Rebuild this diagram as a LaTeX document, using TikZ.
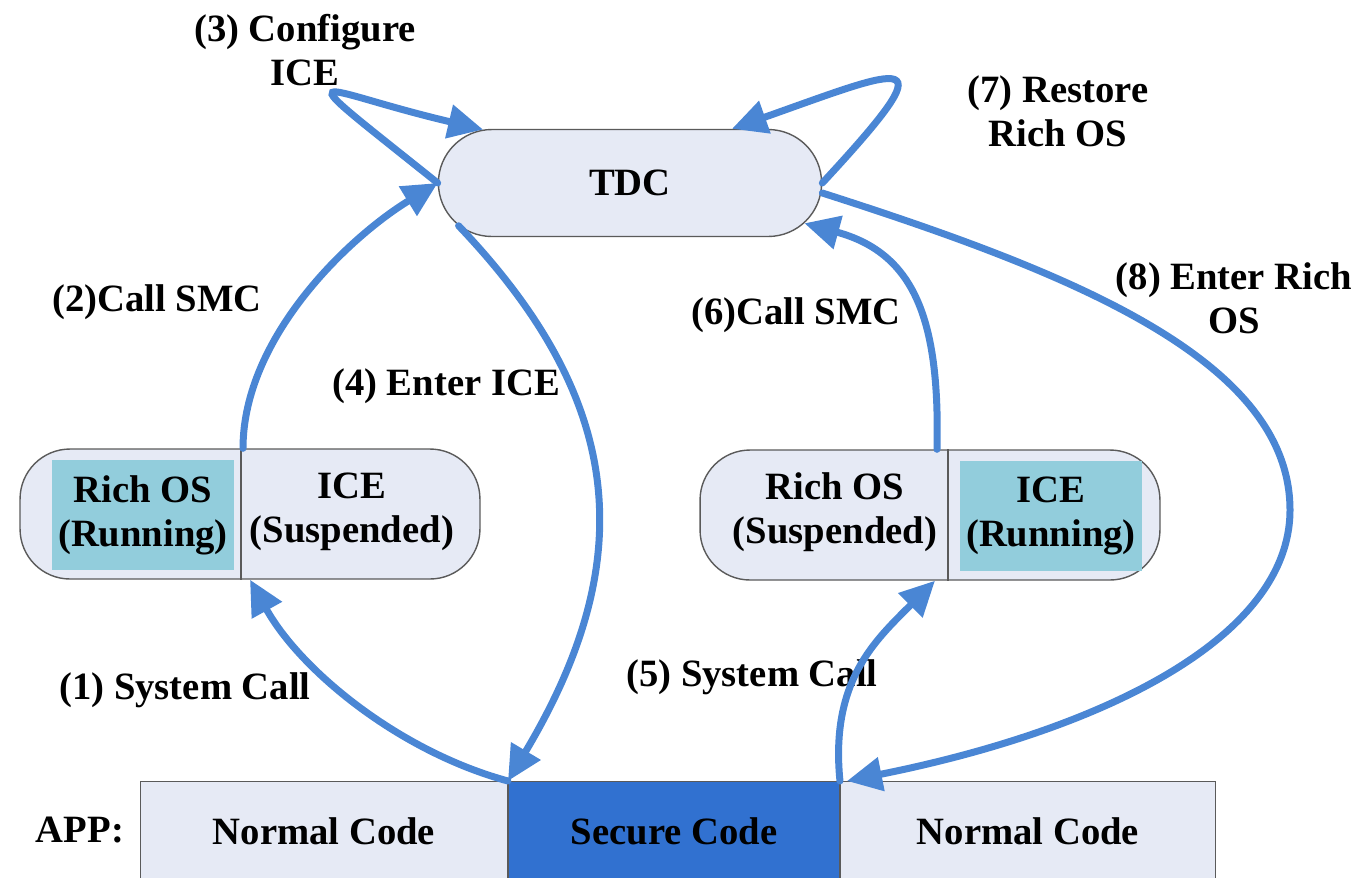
\documentclass[tikz,border=0pt]{standalone}
\usepackage{fontspec}
\setmainfont{Liberation Serif}
\usetikzlibrary{arrows.meta,positioning,shapes.misc}

\definecolor{paleblue}{RGB}{230,234,245}
\definecolor{runfill}{RGB}{146,205,220}
\definecolor{securefill}{RGB}{49,113,208}
\definecolor{flowblue}{RGB}{74,134,212}
\definecolor{edgegray}{RGB}{90,90,90}

\begin{document}
\begin{tikzpicture}[x=0.02cm,y=-0.02cm,font=\fontsize{22}{25}\selectfont\bfseries]
	% \usetikzlibrary{arrows.meta,positioning,shapes.misc}
	\tikzstyle{pill} = [rounded rectangle, draw=edgegray, fill=paleblue, line width=0.8pt]
	\tikzstyle{capsule} = [rectangle, rounded corners=1cm, draw=edgegray, fill=paleblue, line width=0.8pt, minimum width=9.2cm, minimum height=2.6cm]
	\tikzstyle{state} = [rectangle, fill=runfill, minimum width=3.6cm, minimum height=2.2cm, align=center]
	\tikzstyle{note} = [align=center, inner sep=0pt]
	\tikzstyle{codebox} = [rectangle, draw=edgegray, line width=0.6pt, minimum height=2cm]
	\tikzstyle{divider} = [draw=edgegray, line width=0.8pt]
	\tikzstyle{flow} = [draw=flowblue, line width=0.14cm, line cap=round, -{Triangle[length=0.7cm,width=0.66cm]}]

	\useasboundingbox (0,0) rectangle (1359,877);

	\node [pill, minimum width=7.9cm, minimum height=2.14cm] (tdc) at (630,183) {TDC};

	\node [capsule] (lcap) at (250,514) {};
	\node [state] (lrich) at (143,515) {Rich OS\\(Running)};
	\node [note] (lice) at (352,512) {ICE\\(Suspended)};
	\path [divider] ([xshift=-0.18cm]lcap.north) -- ([xshift=-0.18cm]lcap.south);

	\node [capsule] (rcap) at (930,515) {};
	\node [note] (rrich) at (835,512) {Rich OS\\(Suspended)};
	\node [state] (rice) at (1051,516) {ICE\\(Running)};
	\path [divider] ([xshift=0.36cm]rcap.north) -- ([xshift=0.36cm]rcap.south);

	\node [codebox, fill=paleblue, minimum width=7.34cm, anchor=north west] (normA) at (140,781) {Normal Code};
	\node [codebox, fill=securefill, minimum width=6.62cm, right=0pt of normA] (secure) {Secure Code};
	\node [codebox, fill=paleblue, minimum width=7.5cm, right=0pt of secure] (normB) {Normal Code};
	\node [note] (app) at (80,830) {APP:};

	\node [note] (cfg) at (305,50) {(3) Configure\\ICE};
	\node [note] (rst) at (1058,111) {(7) Restore\\Rich OS};
	\node [note] (smcA) at (157,302) {(2)Call SMC};
	\node [note] (ent) at (446,386) {(4) Enter ICE};
	\node [note] (smcB) at (796,315) {(6)Call SMC};
	\node [note] (entRich) at (1234,298) {(8) Enter Rich\\OS};
	\node [note] (sysA) at (185,690) {(1) System Call};
	\node [note] (sysB) at (752,677) {(5) System Call};

	\coordinate (bend8) at (1290,510);

	\path [flow] (secure.north west) .. controls +(-110,-30) and +(50,90) .. (lcap.south);
	\path [flow] ([xshift=-0.14cm]lcap.north) .. controls +(0,-110) and +(-90,55) .. (tdc.west);
	\path [flow] (tdc.west) .. controls +(-160,-128) and +(-170,-40) .. (tdc.160);
	\path [flow] (tdc.194) .. controls +(167,175) and +(132,-221) .. (secure.north west);
	\path [flow] (secure.north east) .. controls +(-10,-100) and +(-60,60) .. ([xshift=0.1cm]rcap.south);
	\path [flow] ([xshift=0.14cm]rcap.north) .. controls +(3,-130) and +(110,30) .. (tdc.-13);
	\path [flow] (tdc.east) .. controls +(128,-138) and +(175,-62) .. (tdc.28);
	\path [flow] ([yshift=-0.2cm]tdc.east) .. controls +(250,80) and +(0,-150) .. (bend8)
		.. controls +(0,130) and +(250,-50) .. ([xshift=0.14cm]normB.north west);
\end{tikzpicture}
\end{document}
